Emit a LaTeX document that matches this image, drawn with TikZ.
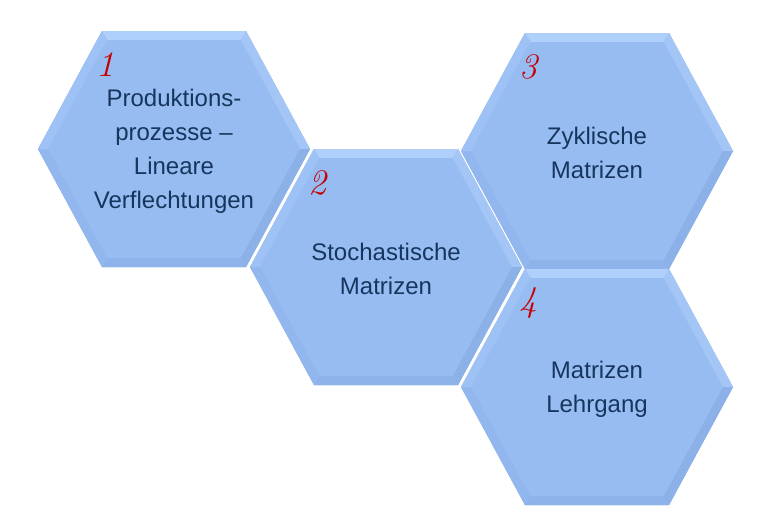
\documentclass[tikz,border=0pt]{standalone}
\usepackage{fontspec}
\setmainfont{Liberation Sans}
\newfontfamily\numfont{Latin Modern Roman}
\definecolor{hexbase}{HTML}{96BCF2}
\definecolor{hextop}{HTML}{AFD0FB}
\definecolor{hexur}{HTML}{A3C6F7}
\definecolor{hexlr}{HTML}{8CB1E9}
\definecolor{hexbot}{HTML}{8EB3EA}
\definecolor{hexll}{HTML}{92B7EE}
\definecolor{hexul}{HTML}{9EC2F5}
\definecolor{hexline}{HTML}{C4C8CE}
\definecolor{txtnavy}{HTML}{17365D}
\definecolor{numred}{HTML}{C80000}
\tikzset{
  hextext/.style={text=txtnavy, align=center, inner sep=0pt,
    font=\fontsize{24}{34}\selectfont},
  hexnum/.style={text=numred, inner sep=0pt,
    font=\numfont\itshape\fontsize{36}{36}\selectfont},
  hexshadow/.style={fill=hexline},
}
% #1 name, #2 cx, #3 cy, #4 text, #5 number
\newcommand\hexcell[5]{%
  \begin{scope}[shift={(#2,#3)}]
    \coordinate (#1-E)  at (136,0);
    \coordinate (#1-NE) at (72,-118);
    \coordinate (#1-NW) at (-72,-118);
    \coordinate (#1-W)  at (-136,0);
    \coordinate (#1-SW) at (-72,118);
    \coordinate (#1-SE) at (72,118);
    \coordinate (#1-e)  at (125.8,0);
    \coordinate (#1-ne) at (66.6,-109);
    \coordinate (#1-nw) at (-66.6,-109);
    \coordinate (#1-w)  at (-125.8,0);
    \coordinate (#1-sw) at (-66.6,109);
    \coordinate (#1-se) at (66.6,109);
    \fill[hexshadow,shift={(0.8,1.6)}] (#1-E) -- (#1-NE) -- (#1-NW) -- (#1-W) -- (#1-SW) -- (#1-SE) -- cycle;
    \fill[hexbase] (#1-E) -- (#1-NE) -- (#1-NW) -- (#1-W) -- (#1-SW) -- (#1-SE) -- cycle;
    \fill[hextop] (#1-NW) -- (#1-NE) -- (#1-ne) -- (#1-nw) -- cycle;
    \fill[hexur]  (#1-NE) -- (#1-E) -- (#1-e) -- (#1-ne) -- cycle;
    \fill[hexlr]  (#1-E) -- (#1-SE) -- (#1-se) -- (#1-e) -- cycle;
    \fill[hexbot] (#1-SE) -- (#1-SW) -- (#1-sw) -- (#1-se) -- cycle;
    \fill[hexll]  (#1-SW) -- (#1-W) -- (#1-w) -- (#1-sw) -- cycle;
    \fill[hexul]  (#1-W) -- (#1-NW) -- (#1-nw) -- (#1-w) -- cycle;
    \fill[hexbase] (#1-e) -- (#1-ne) -- (#1-nw) -- (#1-w) -- (#1-sw) -- (#1-se) -- cycle;
    \node[hextext] (#1) at (0,2) {#4};
    \node[hexnum] (#1-num) at (-69,-84) {#5};
  \end{scope}}
\begin{document}
\begin{tikzpicture}[x=1pt,y=-1pt]
  \useasboundingbox (0,0) rectangle (776,514);
  \hexcell{h1}{174}{149}{Produktions-\\prozesse –\\Lineare\\Verflechtungen}{1}
  \hexcell{h3}{597}{151}{Zyklische\\Matrizen}{3}
  \hexcell{h2}{386}{267}{Stochastische\\Matrizen}{2}
  \hexcell{h4}{597}{387}{Matrizen\\Lehrgang}{4}
\end{tikzpicture}
\end{document}
